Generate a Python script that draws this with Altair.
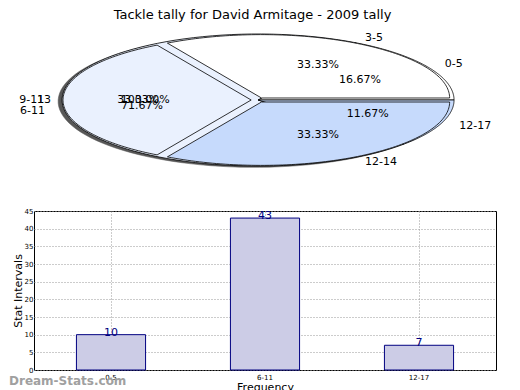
import altair as alt
import pandas as pd
import numpy as np

TITLE = "Tackle tally for David Armitage - 2009 tally"

# pie data (three overlaid pies as in the reference)
pie_a_labels = ["0-5", "6-11", "12-17"]
pie_a_values = [10, 43, 7]
pie_b_labels = ["3-5", "9-11", "12-14"]
pie_b_values = [1, 1, 1]
pie_c_labels = ["13"]
pie_c_values = [1]
slice_colors = ["#ffffff", "#eaf1fe", "#c6dafc"]

# bar data
bar_categories = ["0-5", "6-11", "12-17"]
bar_values = [10, 43, 7]
y_ticks = [0, 5, 10, 15, 20, 25, 30, 35, 40, 45]

FONT = "DejaVu Sans"


def pie_tables(name, labels, values, radius=1.0, explode=0.0, shift=(0.0, 0.0)):
    total = float(sum(values))
    pts, txt = [], []
    start = 0.0
    for k, (lab, v) in enumerate(zip(labels, values)):
        t1 = start / total * 2 * np.pi
        t2 = (start + v) / total * 2 * np.pi
        start += v
        mid = (t1 + t2) / 2
        cx = explode * np.cos(mid) + shift[0]
        cy = explode * np.sin(mid) + shift[1]
        ang = np.linspace(t1, t2, 90)
        seq = [(cx, cy)] + [(cx + radius * np.cos(a), cy + radius * np.sin(a)) for a in ang] + [(cx, cy)]
        for i, (x, y) in enumerate(seq):
            pts.append(dict(sid=f"{name}{k}", i=i, x=x, y=y, color=slice_colors[k % 3]))
        txt.append(dict(label=lab, pct=f"{100 * v / total:.2f}%",
                        lx=cx + 1.1 * radius * np.cos(mid), ly=cy + 1.1 * radius * np.sin(mid),
                        px=cx + 0.6 * radius * np.cos(mid), py=cy + 0.6 * radius * np.sin(mid),
                        side="left" if np.cos(mid) > 1e-9 else "right"))
    return pd.DataFrame(pts), pd.DataFrame(txt)


shadow_pts, _ = pie_tables("s", pie_a_labels, pie_a_values, 1.0, 0.0, (-0.02, -0.02))
c_pts, c_txt = pie_tables("c", pie_c_labels, pie_c_values, 0.96)
a_pts, a_txt = pie_tables("a", pie_a_labels, pie_a_values, 1.0)
b_pts, b_txt = pie_tables("b", pie_b_labels, pie_b_values, 0.96, 0.035)
all_txt = pd.concat([c_txt, a_txt, b_txt], ignore_index=True)

PIE_W, PIE_H = 462, 150
xs = alt.Scale(domain=[-1.143, 1.214], nice=False, zero=False)
ys = alt.Scale(domain=[-1.136, 1.136], nice=False, zero=False)


def wedges(df):
    return alt.Chart(df).mark_line(filled=True, stroke="black", strokeWidth=0.8,
                                   strokeJoin="round").encode(
        x=alt.X("x:Q", scale=xs, axis=None),
        y=alt.Y("y:Q", scale=ys, axis=None),
        order=alt.Order("i:Q"),
        detail="sid:N",
        fill=alt.Fill("color:N", scale=None, legend=None))


shadow = alt.Chart(shadow_pts).mark_line(filled=True, fill="#3a3a3a", stroke="#3a3a3a",
                                         strokeWidth=0.5, opacity=0.85).encode(
    x=alt.X("x:Q", scale=xs, axis=None), y=alt.Y("y:Q", scale=ys, axis=None),
    order=alt.Order("i:Q"), detail="sid:N")

lab_left = alt.Chart(all_txt).transform_filter("datum.side == 'left'").mark_text(
    align="left", baseline="middle", fontSize=11, font=FONT, color="black").encode(
    x=alt.X("lx:Q", scale=xs, axis=None), y=alt.Y("ly:Q", scale=ys, axis=None), text="label:N")
lab_right = alt.Chart(all_txt).transform_filter("datum.side == 'right'").mark_text(
    align="right", baseline="middle", fontSize=11, font=FONT, color="black").encode(
    x=alt.X("lx:Q", scale=xs, axis=None), y=alt.Y("ly:Q", scale=ys, axis=None), text="label:N")
pct = alt.Chart(all_txt).mark_text(
    align="center", baseline="middle", fontSize=11, font=FONT, color="black").encode(
    x=alt.X("px:Q", scale=xs, axis=None), y=alt.Y("py:Q", scale=ys, axis=None), text="pct:N")

pie = alt.layer(shadow, wedges(c_pts), wedges(a_pts), wedges(b_pts),
                lab_left, lab_right, pct).properties(
    width=PIE_W, height=PIE_H, view=alt.ViewBackground(stroke=None))

# bar chart
bar_df = pd.DataFrame({"cat": bar_categories, "val": bar_values})
BAR_W, BAR_H = 462, 159
x_axis = alt.Axis(title="Frequency", labelAngle=0, labelFontSize=7, labelFont=FONT,
                  titleFont=FONT, titleFontSize=11, titleFontWeight="normal",
                  titlePadding=1, labelPadding=3, tickSize=0, domain=False,
                  grid=True, gridDash=[1, 2], gridColor="#999999", bandPosition=0.5,
                  labelColor="black", titleColor="black")
y_axis = alt.Axis(title="Stat Intervals", values=y_ticks, labelFontSize=7, labelFont=FONT,
                  labelOverlap=False, titleFont=FONT, titleFontSize=11,
                  titleFontWeight="normal", titlePadding=1, labelPadding=1,
                  tickSize=0, domain=False, grid=True, gridDash=[1, 2],
                  gridColor="#999999", labelColor="black", titleColor="black")
bx = alt.X("cat:N", sort=bar_categories,
           scale=alt.Scale(paddingInner=0.551, paddingOuter=0.2755), axis=x_axis)
by = alt.Y("val:Q", scale=alt.Scale(domain=[0, 45], nice=False), axis=y_axis)

bars = alt.Chart(bar_df).mark_bar(fill="#cccce6", stroke="#000080", strokeWidth=1).encode(
    x=bx, y=by)
vals = alt.Chart(bar_df).mark_text(color="#000080", baseline="bottom", dy=3, fontSize=11,
                                   font=FONT).encode(x=bx, y=by, text="val:Q")
mark_df = pd.DataFrame({"t": ["Dream-Stats.com"]})
watermark = alt.Chart(mark_df).mark_text(align="left", baseline="middle", fontSize=12,
                                         fontWeight="bold", font=FONT, color="#a0a0a0").encode(
    x=alt.value(-25), y=alt.value(170), text="t:N")

bar = alt.layer(bars, vals, watermark).properties(
    width=BAR_W, height=BAR_H, view=alt.ViewBackground(stroke="black", strokeWidth=1))

chart = alt.vconcat(pie, bar, spacing=31).properties(
    title=alt.Title(TITLE, fontSize=13, font=FONT, fontWeight="normal", anchor="middle",
                    offset=3, color="black"),
    padding={"left": 0, "top": 1, "right": 0, "bottom": 0},
).configure_view(stroke="black")

chart.save("out.html", embed_options={"renderer": "svg", "actions": False})
